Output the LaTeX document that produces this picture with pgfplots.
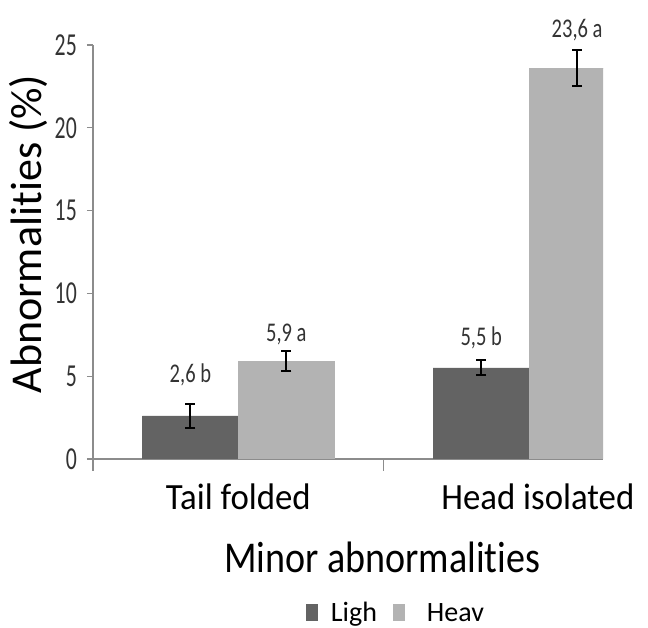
\documentclass[border=0pt]{standalone}
\usepackage{fontspec}
\usepackage{pgfplots}
\pgfplotsset{compat=1.18}
\setmainfont[Ligatures=NoCommon]{Carlito}
\newfontfamily\tickf[FakeStretch=0.68]{Carlito}
\newfontfamily\valf[FakeStretch=0.76]{Carlito}
\newfontfamily\catf[FakeStretch=0.94, Ligatures=NoCommon]{Carlito}
\newfontfamily\labf[FakeStretch=0.865, Ligatures=NoCommon]{Carlito}
\definecolor{darkbar}{RGB}{99,99,99}
\definecolor{lightbar}{RGB}{179,179,179}
\definecolor{axgray}{RGB}{140,140,140}
\pgfplotstableread{
x y e
-0.165 2.6 0.72
0.835 5.5 0.45
}\ligh
\pgfplotstableread{
x y e
0.165 5.9 0.6
1.165 23.6 1.1
}\heav
\pgfplotstableread{
x y label
-0.165 5.07 {2,6 b}
0.165 7.53 {5,9 a}
0.835 7.3 {5,5 b}
1.165 25.88 {23,6 a}
}\labels
\pgfplotsset{frame/.style={
  at={(93pt,169pt)}, anchor=south west,
  scale only axis, width=510pt, height=414pt,
  xmin=-0.5, xmax=1.254, ymin=0, ymax=25}}
\begin{document}
\begin{tikzpicture}
\useasboundingbox (0,0) rectangle (648pt,628pt);
\begin{axis}[
  frame,
  axis x line*=bottom, axis y line*=left,
  axis line style={axgray, line width=1.3pt, -},
  tick align=outside,
  major tick length=6pt, minor tick length=12pt,
  every tick/.style={axgray, line width=1.3pt},
  ytick={0,5,10,15,20,25},
  yticklabels={0,5,10,15,20,25},
  yticklabel style={font=\tickf\fontsize{32}{32}\selectfont, text=black!80, inner sep=0pt, xshift=-10pt},
  xtick={0,1.03},
  xticklabels={Tail folded,Head isolated},
  major x tick style={draw=none},
  minor xtick={-0.5,0.5},
  xticklabel style={font=\catf\fontsize{37}{37}\selectfont, anchor=base, inner sep=0pt, yshift=-45pt},
  xlabel={Minor abnormalities},
  xlabel style={font=\labf\fontsize{44}{44}\selectfont, at={(axis description cs:0.567,-0.273)}, anchor=base, inner sep=0pt},
  ylabel={Abnormalities (\%)},
  ylabel style={font=\fontsize{44}{44}\selectfont, at={(axis description cs:-0.1,0.5435)}, anchor=base, inner sep=0pt},
  legend style={at={(axis description cs:0.594,-0.372)}, anchor=center, draw=none, fill=none,
    font=\fontsize{28}{30}\selectfont, legend columns=2,
    /tikz/every odd column/.append style={column sep=11pt},
    /tikz/every even column/.append style={column sep=14pt}},
  legend image code/.code={\path[#1, draw=none] (0pt,-8pt) rectangle (12pt,9pt);},
  error bars/error bar style={black, line width=2pt},
  error bars/error mark options={black, line width=2pt, mark size=5pt, rotate=90},
]
\addplot[ybar, bar width=0.33, bar shift=0pt, fill=darkbar, draw=darkbar,
  error bars/.cd, y dir=both, y explicit]
  table[x=x, y=y, y error=e] {\ligh};
\addlegendentry{Ligh}
\addplot[ybar, bar width=0.33, bar shift=0pt, fill=lightbar, draw=lightbar,
  error bars/.cd, y dir=both, y explicit]
  table[x=x, y=y, y error=e] {\heav};
\addlegendentry{\hspace{9pt}Heav}
\end{axis}
\begin{axis}[frame, hide axis, clip=false]
\addplot[mark=*, mark size=0pt, mark options={draw=none, fill=none}, draw=none,
  point meta=explicit symbolic, nodes near coords,
  every node near coord/.append style={anchor=center, inner sep=0pt, font=\valf\fontsize{27}{27}\selectfont, text=black!80}]
  table[x=x, y=y, meta=label] {\labels};
\end{axis}
\end{tikzpicture}
\end{document}
